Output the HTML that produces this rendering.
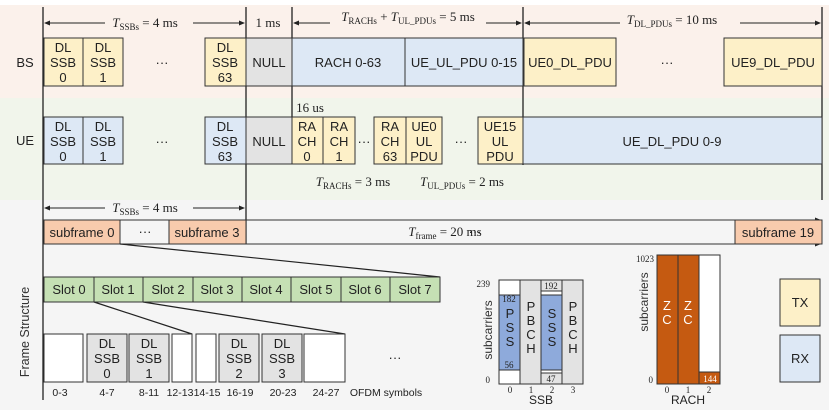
<!DOCTYPE html>
<html><head><meta charset="utf-8"><style>
body{margin:0;background:#fff}
svg{display:block;font-family:"Liberation Sans",Arial,sans-serif}
.s{font-family:"Liberation Serif",serif}
</style></head><body>
<svg width="829" height="414" viewBox="0 0 829 414" xmlns="http://www.w3.org/2000/svg">
<defs>
<marker id="a" markerWidth="6" markerHeight="6" refX="5" refY="3" orient="auto"><path d="M0,0.5 L6,3 L0,5.5z" fill="#222"/></marker>
</defs>
<rect x="0" y="5" width="829" height="93" fill="#fbf1eb"/>
<rect x="0" y="98" width="829" height="102" fill="#f1f5eb"/>
<rect x="0" y="200" width="829" height="210" fill="#f5f5f5"/>
<g stroke="#222" stroke-width="1.3">
<line x1="43" y1="7" x2="43" y2="400"/>
<line x1="246" y1="7" x2="246" y2="244"/>
<line x1="292" y1="7" x2="292" y2="117"/>
<line x1="523" y1="7" x2="523" y2="165"/>
<line x1="822" y1="7" x2="822" y2="200"/>
</g>
<g stroke="#222" stroke-width="1" marker-end="url(#a)">
<line x1="105" y1="23" x2="45" y2="23"/><line x1="193" y1="23" x2="244" y2="23"/>
<line x1="330" y1="23" x2="294" y2="23"/><line x1="486" y1="23" x2="521" y2="23"/>
<line x1="620" y1="23" x2="525" y2="23"/><line x1="740" y1="23" x2="820" y2="23"/>
<line x1="105" y1="208" x2="45" y2="208"/><line x1="193" y1="208" x2="244" y2="208"/>
</g>
<g class="s" font-size="13" fill="#222" text-anchor="middle">
<text x="145" y="27"><tspan font-style="italic">T</tspan><tspan font-size="9" dy="3">SSBs</tspan><tspan dy="-3"> = 4 ms</tspan></text>
<text x="268" y="27">1 ms</text>
<text x="408" y="21"><tspan font-style="italic">T</tspan><tspan font-size="9" dy="3">RACHs</tspan><tspan dy="-3"> + </tspan><tspan font-style="italic">T</tspan><tspan font-size="9" dy="3">UL_PDUs</tspan><tspan dy="-3"> = 5 ms</tspan></text>
<text x="672" y="24"><tspan font-style="italic">T</tspan><tspan font-size="9" dy="3">DL_PDUs</tspan><tspan dy="-3"> = 10 ms</tspan></text>
<text x="310" y="112">16 us</text>
<text x="353" y="186"><tspan font-style="italic">T</tspan><tspan font-size="9" dy="3">RACHs</tspan><tspan dy="-3"> = 3 ms</tspan></text>
<text x="462" y="186"><tspan font-style="italic">T</tspan><tspan font-size="9" dy="3">UL_PDUs</tspan><tspan dy="-3"> = 2 ms</tspan></text>
<text x="145" y="212"><tspan font-style="italic">T</tspan><tspan font-size="9" dy="3">SSBs</tspan><tspan dy="-3"> = 4 ms</tspan></text>
<text x="445" y="236"><tspan font-style="italic">T</tspan><tspan font-size="9" dy="3">frame</tspan><tspan dy="-3"> = 20 ms</tspan></text>
</g>
<g font-size="13" fill="#222" text-anchor="middle">
<text x="25" y="67">BS</text><text x="25" y="145">UE</text>
<g stroke="#333" stroke-width="1">
<rect x="44" y="38" width="39" height="48" fill="#fdf0c8"/>
<rect x="83" y="38" width="40" height="48" fill="#fdf0c8"/>
<rect x="205" y="38" width="41" height="48" fill="#fdf0c8"/>
<rect x="246" y="38" width="46" height="48" fill="#e3e3e3"/>
<rect x="292" y="38" width="113" height="48" fill="#dde8f5"/>
<rect x="405" y="38" width="118" height="48" fill="#dde8f5"/>
<rect x="524" y="38" width="92" height="48" fill="#fdf0c8"/>
<rect x="724" y="38" width="98" height="48" fill="#fdf0c8"/>
<rect x="44" y="117" width="39" height="47" fill="#dde8f5"/>
<rect x="83" y="117" width="40" height="47" fill="#dde8f5"/>
<rect x="205" y="117" width="41" height="47" fill="#dde8f5"/>
<rect x="246" y="117" width="46" height="47" fill="#e3e3e3"/>
<rect x="292" y="117" width="31" height="47" fill="#fdf0c8"/>
<rect x="323" y="117" width="32" height="47" fill="#fdf0c8"/>
<rect x="374" y="117" width="32" height="47" fill="#fdf0c8"/>
<rect x="406" y="117" width="36" height="47" fill="#fdf0c8"/>
<rect x="478" y="117" width="45" height="47" fill="#fdf0c8"/>
<rect x="523" y="117" width="299" height="47" fill="#dde8f5"/>
</g>
<text x="63" y="52">DL<tspan x="63" dy="15">SSB</tspan><tspan x="63" dy="15">0</tspan></text>
<text x="103" y="52">DL<tspan x="103" dy="15">SSB</tspan><tspan x="103" dy="15">1</tspan></text>
<text x="225" y="52">DL<tspan x="225" dy="15">SSB</tspan><tspan x="225" dy="15">63</tspan></text>
<text x="269" y="67">NULL</text><text x="348" y="67">RACH 0-63</text><text x="464" y="67">UE_UL_PDU 0-15</text>
<text x="570" y="67">UE0_DL_PDU</text><text x="773" y="67">UE9_DL_PDU</text>
<text x="162" y="67">···</text><text x="667" y="67">···</text>
<text x="63" y="131">DL<tspan x="63" dy="15">SSB</tspan><tspan x="63" dy="15">0</tspan></text>
<text x="103" y="131">DL<tspan x="103" dy="15">SSB</tspan><tspan x="103" dy="15">1</tspan></text>
<text x="225" y="131">DL<tspan x="225" dy="15">SSB</tspan><tspan x="225" dy="15">63</tspan></text>
<text x="162" y="146">···</text><text x="269" y="146">NULL</text>
<text x="307" y="131">RA<tspan x="307" dy="15">CH</tspan><tspan x="307" dy="15">0</tspan></text>
<text x="339" y="131">RA<tspan x="339" dy="15">CH</tspan><tspan x="339" dy="15">1</tspan></text>
<text x="364" y="146">···</text>
<text x="390" y="131">RA<tspan x="390" dy="15">CH</tspan><tspan x="390" dy="15">63</tspan></text>
<text x="424" y="131">UE0<tspan x="424" dy="15">UL</tspan><tspan x="424" dy="15">PDU</tspan></text>
<text x="461" y="146">···</text>
<text x="500" y="131">UE15<tspan x="500" dy="15">UL</tspan><tspan x="500" dy="15">PDU</tspan></text>
<text x="672" y="146">UE_DL_PDU 0-9</text>
<!-- frame -->
<g stroke="#333" stroke-width="1" fill="none" marker-end="url(#a)">
<line x1="43" y1="220" x2="820" y2="220"/><line x1="43" y1="244" x2="820" y2="244"/>
</g>
<g stroke="#333" stroke-width="1">
<rect x="44" y="220" width="76" height="24" fill="#f8cbad"/>
<rect x="169" y="220" width="77" height="24" fill="#f8cbad"/>
<rect x="735" y="220" width="87" height="24" fill="#f8cbad"/>
</g>
<text x="82" y="237">subframe 0</text><text x="145" y="236">···</text><text x="207" y="237">subframe 3</text>
<text x="475" y="236">···</text><text x="778" y="237">subframe 19</text>
<g stroke="#222" stroke-width="1.2">
<line x1="120" y1="244" x2="440" y2="277"/>
<line x1="94" y1="302" x2="192" y2="334"/>
<line x1="143" y1="302" x2="345" y2="334"/>
</g>
<g stroke="#333" stroke-width="1" fill="#c5e0b4">
<rect x="44" y="277" width="50" height="25"/><rect x="94" y="277" width="49" height="25"/>
<rect x="143" y="277" width="50" height="25"/><rect x="193" y="277" width="49" height="25"/>
<rect x="242" y="277" width="49" height="25"/><rect x="291" y="277" width="50" height="25"/>
<rect x="341" y="277" width="49" height="25"/><rect x="390" y="277" width="50" height="25"/>
</g>
<text x="69" y="294">Slot 0</text><text x="118" y="294">Slot 1</text><text x="168" y="294">Slot 2</text>
<text x="217" y="294">Slot 3</text><text x="266" y="294">Slot 4</text><text x="316" y="294">Slot 5</text>
<text x="365" y="294">Slot 6</text><text x="415" y="294">Slot 7</text>
<g stroke="#333" stroke-width="1">
<rect x="44" y="334" width="39" height="48" fill="#fff"/>
<rect x="87" y="334" width="40" height="48" fill="#e3e3e3"/>
<rect x="129" y="334" width="40" height="48" fill="#e3e3e3"/>
<rect x="172" y="334" width="20" height="48" fill="#fff"/>
<rect x="196" y="334" width="20" height="48" fill="#fff"/>
<rect x="219" y="334" width="40" height="48" fill="#e3e3e3"/>
<rect x="262" y="334" width="40" height="48" fill="#e3e3e3"/>
<rect x="304" y="334" width="41" height="48" fill="#fff"/>
</g>
<text x="107" y="348">DL<tspan x="107" dy="15">SSB</tspan><tspan x="107" dy="15">0</tspan></text>
<text x="149" y="348">DL<tspan x="149" dy="15">SSB</tspan><tspan x="149" dy="15">1</tspan></text>
<text x="239" y="348">DL<tspan x="239" dy="15">SSB</tspan><tspan x="239" dy="15">2</tspan></text>
<text x="282" y="348">DL<tspan x="282" dy="15">SSB</tspan><tspan x="282" dy="15">3</tspan></text>
<text x="395" y="362">···</text>
<g font-size="10.5">
<text x="60" y="396">0-3</text><text x="107" y="396">4-7</text><text x="149" y="396">8-11</text>
<text x="180" y="396">12-13</text><text x="207" y="396">14-15</text><text x="240" y="396">16-19</text>
<text x="283" y="396">20-23</text><text x="326" y="396">24-27</text><text x="386" y="396">OFDM symbols</text>
</g>
<text transform="translate(29,332) rotate(-90)" font-size="12.5" fill="#333">Frame Structure</text>
<!-- SSB -->
<g stroke="#333" stroke-width="1">
<rect x="499" y="280" width="21" height="104" fill="#fff"/>
<rect x="499" y="295" width="21" height="75" fill="#8eaadb"/>
<rect x="520" y="280" width="21" height="104" fill="#e3e3e3"/>
<rect x="541" y="280" width="21" height="104" fill="#fff"/>
<rect x="541" y="280" width="21" height="11" fill="#e3e3e3"/>
<rect x="541" y="295" width="21" height="75" fill="#8eaadb"/>
<rect x="541" y="373" width="21" height="11" fill="#e3e3e3"/>
<rect x="562" y="280" width="21" height="104" fill="#e3e3e3"/>
</g>
<g class="s" font-size="9">
<text x="509" y="302">182</text><text x="509" y="368">56</text><text x="551" y="289">192</text><text x="551" y="382">47</text>
<text x="490" y="287" text-anchor="end">239</text><text x="490" y="383" text-anchor="end">0</text>
<text x="510" y="393">0</text><text x="531" y="393">1</text><text x="552" y="393">2</text><text x="573" y="393">3</text>
<text x="654" y="262" text-anchor="end">1023</text><text x="653" y="383" text-anchor="end">0</text>
<text x="667" y="393">0</text><text x="688" y="393">1</text><text x="709" y="393">2</text>
</g>
<text x="510" y="318">P<tspan x="510" dy="14">S</tspan><tspan x="510" dy="14">S</tspan></text>
<text x="531" y="311">P<tspan x="531" dy="14">B</tspan><tspan x="531" dy="14">C</tspan><tspan x="531" dy="14">H</tspan></text>
<text x="552" y="318">S<tspan x="552" dy="14">S</tspan><tspan x="552" dy="14">S</tspan></text>
<text x="573" y="311">P<tspan x="573" dy="14">B</tspan><tspan x="573" dy="14">C</tspan><tspan x="573" dy="14">H</tspan></text>
<text x="541" y="404" font-size="12">SSB</text>
<text transform="translate(492,330) rotate(-90)" font-size="12" fill="#333">subcarriers</text>
<!-- RACH -->
<g stroke="#333" stroke-width="1">
<rect x="657" y="255" width="21" height="129" fill="#c55a11"/>
<rect x="678" y="255" width="21" height="129" fill="#c55a11"/>
<rect x="699" y="255" width="21" height="129" fill="#fff"/>
<rect x="699" y="372" width="21" height="12" fill="#c55a11"/>
</g>
<text x="710" y="382" class="s" font-size="9" fill="#fff">144</text>
<text x="667" y="310" fill="#fff">Z<tspan x="667" dy="14">C</tspan></text>
<text x="688" y="310" fill="#fff">Z<tspan x="688" dy="14">C</tspan></text>
<text x="688" y="404" font-size="12">RACH</text>
<text transform="translate(648,302) rotate(-90)" font-size="12" fill="#333">subcarriers</text>
<rect x="780" y="279" width="40" height="47" fill="#fdf0c8" stroke="#333"/>
<rect x="780" y="335" width="40" height="47" fill="#dde8f5" stroke="#333"/>
<text x="800" y="307">TX</text><text x="800" y="363">RX</text>
</g>
</svg>
</body></html>
